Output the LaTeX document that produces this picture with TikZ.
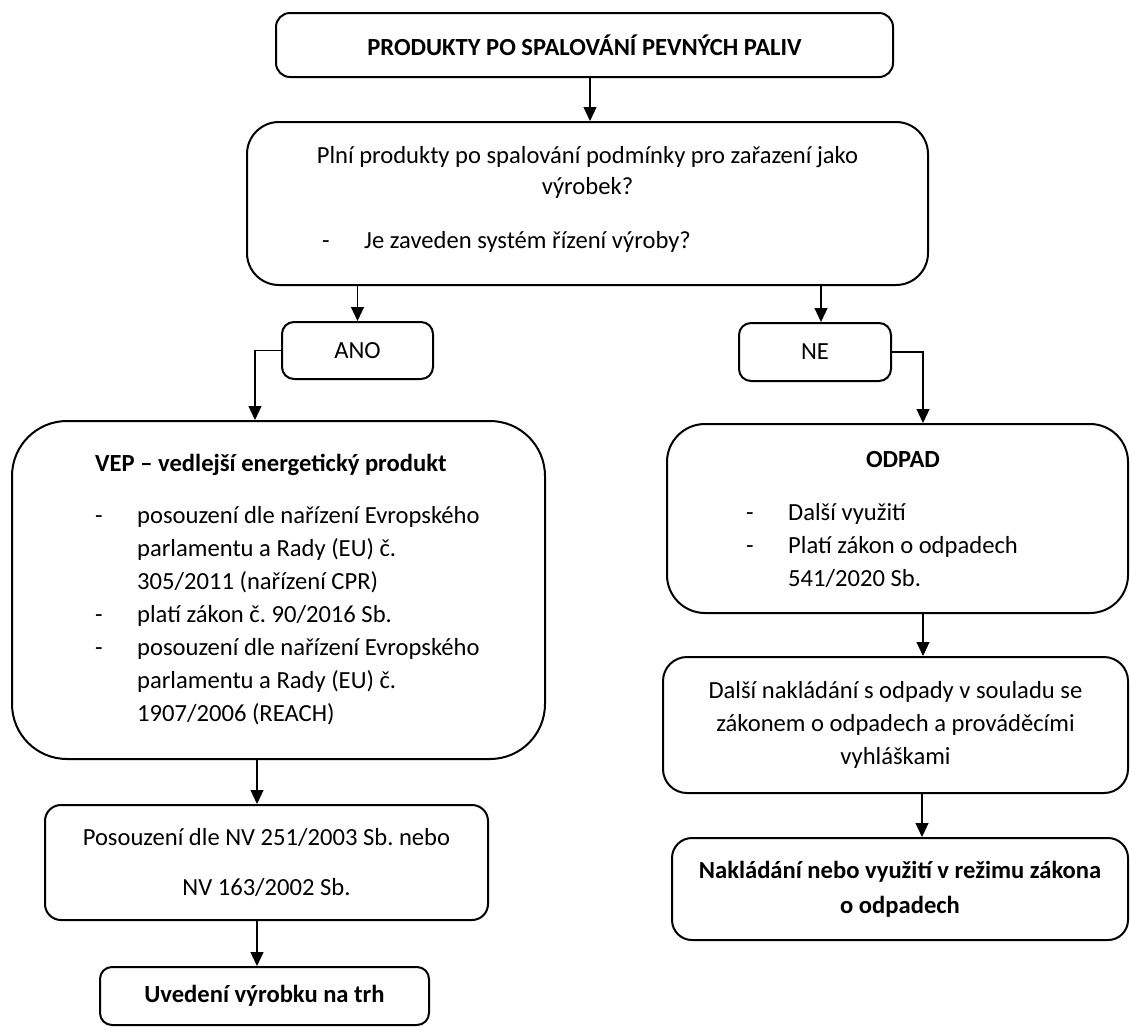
\documentclass[tikz,border=0pt]{standalone}
\usepackage{fontspec}
\setmainfont{Carlito}
\usepackage{xcolor}
\usetikzlibrary{arrows.meta,positioning}
\frenchspacing
\newcommand{\dashitem}[1]{\makebox[42pt][l]{-}#1}
\newcommand{\contitem}[1]{\hspace*{42pt}#1}

\begin{document}
\begin{tikzpicture}[x=1pt, y=-1pt,
    every node/.style={font=\fontsize{24.6}{33}\selectfont},
    box/.style={draw, rectangle, line width=2pt, rounded corners=#1, inner sep=0pt, align=center},
    box/.default=14pt,
    txt/.style={inner sep=0pt, align=left},
    arr/.style={-{Triangle[width=13pt,length=14pt]}, line width=1.1pt}]
    \useasboundingbox (0,0) rectangle (1130,1029);

    % Start and question
    \node[box, minimum width=617pt, minimum height=64pt] (top) at (584.5, 45) {\textbf{PRODUKTY PO SPALOVÁNÍ PEVNÝCH PALIV}};
    \node[box=32pt, minimum width=681pt, minimum height=163pt] (quest) at (587.5, 203.5) {};
    \node[txt, align=center] (questtxt) at (587.5, 172.5) {Plní produkty po spalování podmínky pro zařazení jako\\[-2pt]výrobek?};
    \node[txt, anchor=west] (questitem) at (322, 242) {\dashitem{Je zaveden systém řízení výroby?}};

    % Answers
    \node[box=12pt, minimum width=151pt, minimum height=57pt] (ano) at (357.5, 350.5) {ANO};
    \node[box=12pt, minimum width=152pt, minimum height=58pt] (ne) at (815, 352) {NE};

    % Left branch
    \node[box=55pt, minimum width=533pt, minimum height=338pt] (vep) at (278.5, 590) {};
    \node[txt, anchor=west] (veptxt) at (95, 590) {\textbf{VEP – vedlejší energetický produkt}\\[19pt]
        \dashitem{posouzení dle nařízení Evropského}\\
        \contitem{parlamentu a Rady (EU) č.}\\
        \contitem{305/2011 (nařízení CPR)}\\
        \dashitem{platí zákon č. 90/2016 Sb.}\\
        \dashitem{posouzení dle nařízení Evropského}\\
        \contitem{parlamentu a Rady (EU) č.}\\
        \contitem{1907/2006 (REACH)}};
    \node[box=16pt, minimum width=443pt, minimum height=115pt] (posouz) at (266.5, 862.5) {Posouzení dle NV 251/2003 Sb. nebo\\[17pt]NV 163/2002 Sb.};
    \node[box=12pt, minimum width=329pt, minimum height=58pt] (uved) at (264.5, 996) {\textbf{Uvedení výrobku na trh}};

    % Right branch
    \node[box=38pt, minimum width=461pt, minimum height=189pt] (odpad) at (897.5, 518.5) {};
    \node[txt] (odpadtitle) at (903, 460) {\textbf{ODPAD}};
    \node[txt, anchor=west] (odpadtxt) at (746, 545.5) {\dashitem{Další využití}\\
        \dashitem{Platí zákon o odpadech}\\
        \contitem{541/2020 Sb.}};
    \node[box=24pt, minimum width=465pt, minimum height=136pt] (dalsi) at (895.5, 725) {Další nakládání s odpady v souladu se\\zákonem o odpadech a prováděcími\\vyhláškami};
    \node[box=20pt, minimum width=456pt, minimum height=102pt] (naklad) at (900, 889) {\textbf{Nakládání nebo využití v režimu zákona}\\[2pt]\textbf{o odpadech}};

    % Connectors
    \draw[arr] ([xshift=5.5pt]top.south) -- ([xshift=5.5pt]top.south |- quest.north);
    \draw[arr] (quest.south -| ano.north) -- (ano.north);
    \draw[arr] ([xshift=6pt]ne.north |- quest.south) -- ([xshift=6pt]ne.north);
    \draw[arr] (ano.west) -| ([xshift=-23.5pt]vep.north);
    \draw[arr] (ne.east) -| ([xshift=25.5pt]odpad.north);
    \draw[arr] ([xshift=-21.5pt]vep.south) -- ([xshift=-21.5pt]vep.south |- posouz.north);
    \draw[arr] ([xshift=-7.5pt]uved.north |- posouz.south) -- ([xshift=-7.5pt]uved.north);
    \draw[arr] ([xshift=25.5pt]odpad.south) -- ([xshift=25.5pt]odpad.south |- dalsi.north);
    \draw[arr] ([xshift=22pt]naklad.north |- dalsi.south) -- ([xshift=22pt]naklad.north);
\end{tikzpicture}
\end{document}
